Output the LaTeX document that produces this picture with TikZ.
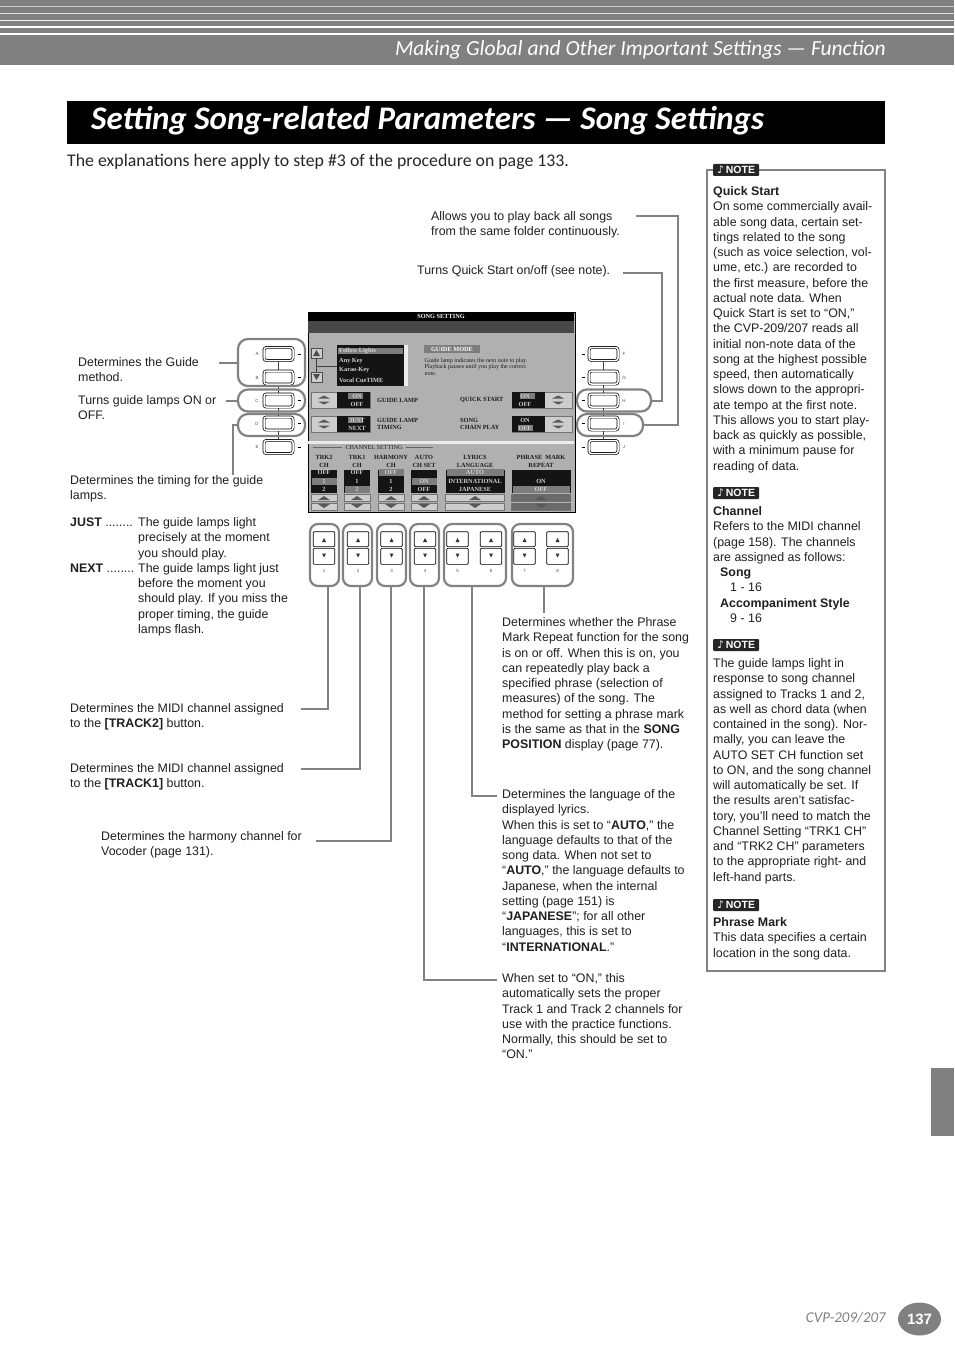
\documentclass[tikz,border=0pt]{standalone}
\usepackage{fontspec}
\setmainfont{Liberation Sans}
\newfontfamily\headfont{Carlito}
\newfontfamily\lcdfont{Liberation Serif}
\newfontfamily\symfont{DejaVu Sans}
\usetikzlibrary{positioning,shapes.geometric}
\definecolor{bandgray}{RGB}{128,128,128}
\definecolor{leadgray}{RGB}{130,130,130}
\definecolor{lcdbody}{RGB}{176,176,176}
\definecolor{lcddark}{RGB}{72,72,72}
\definecolor{lcdbtn}{RGB}{205,205,205}
\definecolor{lcdchip}{RGB}{125,125,125}
\definecolor{lcdink}{RGB}{28,28,28}
\tikzstyle{txt}=[anchor=north west,inner sep=0pt,align=left,text=black!88,
  font=\fontsize{12.4}{15.25}\selectfont]
\tikzstyle{leader}=[draw=leadgray,line width=2pt]
\tikzstyle{grp}=[rectangle,draw=leadgray,line width=2.2pt,rounded corners=10pt]
\tikzstyle{sidebtn}=[rectangle,rounded corners=2.5pt,draw=black,line width=0.7pt,
  double=white,double distance=1.5pt,minimum width=29pt,minimum height=13pt,
  inner sep=0pt,fill=white]
\tikzstyle{padbtn}=[rectangle,rounded corners=1pt,draw=black,line width=0.7pt,
  minimum width=21.5pt,inner sep=0pt,fill=white]
\tikzstyle{tiny}=[inner sep=0pt,text=black!70,font=\fontsize{4.5}{5}\selectfont]
\tikzstyle{notelogo}=[rectangle,rounded corners=1pt,fill=black!85,text=white,
  inner sep=0pt,minimum width=46pt,minimum height=12pt,
  font=\fontsize{10.5}{11}\selectfont\bfseries]
\tikzstyle{lcdtxt}=[inner sep=0pt,align=center,text=lcdink,
  font=\lcdfont\bfseries\fontsize{6.3}{7.2}\selectfont]
\tikzstyle{lcdinv}=[lcdtxt,text=black!18]
\tikzstyle{lcdbox}=[rectangle,draw=black!55,line width=0.6pt,fill=lcdbtn,inner sep=0pt]
\tikzstyle{lcdblack}=[rectangle,fill=black!92,inner sep=0pt]
\tikzstyle{lcdsel}=[rectangle,fill=lcdchip,inner sep=0pt]
% wide flat arrow of the lcd
\newcommand{\flatarrow}[3]{\fill[black!65] (#1-6,#2) -- (#1+6,#2) -- (#1,#2#3) -- cycle;}
\begin{document}
\begin{tikzpicture}[x=1pt,y=-1pt]
  \useasboundingbox (0,0) rectangle (954,1351);

  % Page head
  \fill[bandgray] (0,0) rectangle (954,65);
  \foreach \ly/\lw/\lc in {6.7/1/62,13.7/1.2/75,20.3/1.3/88,27/1.6/100,33.7/2/100}
    \draw[white!\lc!bandgray,line width=\lw pt] (0,\ly) -- (954,\ly);
  \node[anchor=east,inner sep=0pt,text=white,font=\headfont\itshape\fontsize{21.5}{24}\selectfont] (headline) at (886,49.5)
    {Making Global and Other Important Settings — Function};
  \node[rectangle,fill=black,anchor=north west,minimum width=818pt,minimum height=43pt] (titlebar) at (67,101) {};
  \node[anchor=west,inner sep=0pt,text=white,font=\headfont\bfseries\itshape\fontsize{33}{36}\selectfont] (title) at (91,121)
    {Setting Song-related Parameters — Song Settings};
  \node[anchor=west,inner sep=0pt,text=black!85,font=\headfont\fontsize{17.8}{20}\selectfont] (intro) at (67,161.5)
    {The explanations here apply to step \#3 of the procedure on page 133.};

  % Note column
  \node[rectangle,draw=leadgray,line width=2pt,anchor=north west,minimum width=178pt,minimum height=801pt] (notebox) at (706,169) {};
  \foreach \ny/\nn in {170/a,493/b,645/c,905/d}
    \node[notelogo,anchor=west] (logo\nn) at (713,\ny) {{\symfont ♪}\,NOTE};
  \node[txt] (noteQuick) at (713,184.8) {\strut\textbf{Quick Start}\\
    On some commercially avail-\\able song data, certain set-\\tings related to the song\\
    (such as voice selection, vol-\\ume, etc.) are recorded to\\the first measure, before the\\
    actual note data. When\\Quick Start is set to “ON,”\\the CVP-209/207 reads all\\
    initial non-note data of the\\song at the highest possible\\speed, then automatically\\
    slows down to the appropri-\\ate tempo at the first note.\\This allows you to start play-\\
    back as quickly as possible,\\with a minimum pause for\\reading of data.};
  \node[txt] (noteChannel) at (713,504.8) {\strut\textbf{Channel}\\
    Refers to the MIDI channel\\(page 158). The channels\\are assigned as follows:\\
    \hspace*{7pt}\textbf{Song}\\\hspace*{17pt}1 - 16\\\hspace*{7pt}\textbf{Accompaniment Style}\\\hspace*{17pt}9 - 16};
  \node[txt] (noteGuide) at (713,656.8) {\strut The guide lamps light in\\
    response to song channel\\assigned to Tracks 1 and 2,\\as well as chord data (when\\
    contained in the song). Nor-\\mally, you can leave the\\AUTO SET CH function set\\
    to ON, and the song channel\\will automatically be set. If\\the results aren’t satisfac-\\
    tory, you’ll need to match the\\Channel Setting “TRK1 CH”\\and “TRK2 CH” parameters\\
    to the appropriate right- and\\left-hand parts.};
  \node[txt] (notePhrase) at (713,915.8) {\strut\textbf{Phrase Mark}\\
    This data specifies a certain\\location in the song data.};

  % Lcd screen
  \node[rectangle,draw=black,line width=1pt,fill=lcdbody,anchor=north west,minimum width=267pt,minimum height=200pt] (screen) at (307.5,311.5) {};
  \fill[lcddark] (308,321) rectangle (574,333);
  \fill[black] (308,312) rectangle (574,321);
  \node[lcdinv,text=white] (scrTitle) at (441,316) {SONG SETTING};
  \node[rectangle,fill=lcdbtn,draw=black!70,minimum width=11pt,minimum height=10pt,inner sep=0pt] (scrUp) at (316.5,353) {};
  \node[rectangle,fill=lcdbtn,draw=black!70,minimum width=11pt,minimum height=10pt,inner sep=0pt] (scrDown) at (316.5,377) {};
  \fill[black!70] (313,356) -- (320,356) -- (316.5,350) -- cycle;
  \fill[black!70] (313,374) -- (320,374) -- (316.5,380) -- cycle;
  \coordinate (scrJoin) at (316.5,366);
  \draw[black!75,line width=0.6pt] (scrUp) -- (scrDown);
  \node[lcdblack,anchor=north west,minimum width=67pt,minimum height=41pt] (scrList) at (337,345) {};
  \draw[black!75,line width=0.6pt] (scrJoin) -- (scrList.west |- scrJoin);
  \fill[black!8] (404,345) rectangle (408,386);
  \node[lcdsel,anchor=north west,minimum width=65pt,minimum height=6pt] (scrPick) at (338,348) {};
  \node[lcdinv,anchor=west] at (339,351) {Follow Lights};
  \node[lcdinv,anchor=west] at (339,361) {Any Key};
  \node[lcdinv,anchor=west] at (339,370.5) {Karao-Key};
  \node[lcdinv,anchor=west] at (339,380) {Vocal CueTIME};
  \node[lcdsel,anchor=north west,minimum width=56pt,minimum height=8pt] (scrMode) at (424,345) {};
  \node[lcdinv,text=white] at (452,349) {GUIDE MODE};
  \node[lcdtxt,anchor=north west,align=left,font=\lcdfont\fontsize{6}{6.4}\selectfont] (scrHelp) at (424.5,358)
    {Guide lamp indicates the next note to play.\\Playback pauses until you play the correct\\note.};

  % Lcd rows
  \foreach \ry/\rn/\rl/\rr in {400/a/GUIDE LAMP/QUICK START,424/b/GUIDE LAMP\\TIMING/SONG\\CHAIN PLAY}{
    \node[lcdbox,minimum width=59pt,minimum height=16pt] (rowL\rn) at (340.5,\ry) {};
    \node[lcdblack,minimum width=33pt,minimum height=16pt] (rowLb\rn) at (353.5,\ry) {};
    \flatarrow{324}{\ry-1.5}{-3}
    \flatarrow{324}{\ry+1.5}{+3}
    \node[lcdbox,minimum width=60pt,minimum height=16pt] (rowR\rn) at (542,\ry) {};
    \node[lcdblack,minimum width=33pt,minimum height=16pt] (rowRb\rn) at (528.5,\ry) {};
    \flatarrow{558}{\ry-1.5}{-3}
    \flatarrow{558}{\ry+1.5}{+3}
    \node[lcdtxt,anchor=west,align=left] at (377,\ry) {\rl};
    \node[lcdtxt,anchor=west,align=left] at (460,\ry) {\rr};
  }
  \node[lcdsel,minimum width=15pt,minimum height=6pt] at (355,396) {};
  \node[lcdinv] at (357,396) {ON};
  \node[lcdinv] at (357,404) {OFF};
  \node[lcdsel,minimum width=15pt,minimum height=6pt] at (355,420) {};
  \node[lcdinv] at (357,420) {JUST};
  \node[lcdinv] at (357,428) {NEXT};
  \node[lcdsel,minimum width=15pt,minimum height=6pt] at (527,396) {};
  \node[lcdinv] at (525,396) {ON};
  \node[lcdinv] at (525,404) {OFF};
  \node[lcdinv] at (525,420) {ON};
  \node[lcdsel,minimum width=15pt,minimum height=6pt] at (525,428) {};
  \node[lcdinv] at (525,428) {OFF};

  % Channel setting part
  \fill[black!8] (308,441) rectangle (574,444);
  \node[lcdtxt,font=\lcdfont\fontsize{6.2}{7}\selectfont] (chanHead) at (374,447) {CHANNEL SETTING};
  \draw[black!60,line width=0.6pt] (chanHead.west) ++(-3,0) -- ++(-29,0);
  \draw[black!60,line width=0.6pt] (chanHead.east) ++(3,0) -- ++(27,0);
  \foreach \cx/\cw/\cn/\ct in {324/26/a/TRK2\\CH,357/26/b/TRK1\\CH,391/26/c/HARMONY\\CH,424/26/d/AUTO\\CH SET,475/59/e/LYRICS\\LANGUAGE,541/59/f/PHRASE\ \ MARK\\REPEAT}{
    \node[lcdtxt] (colHead\cn) at (\cx,461.5) {\ct};
    \node[lcdblack,anchor=north,minimum width=\cw pt,minimum height=23pt] (col\cn) at (\cx,470) {};
    \node[lcdbox,anchor=north,minimum width=\cw pt,minimum height=7pt] (colUp\cn) at (\cx,494) {};
    \node[lcdbox,anchor=north,minimum width=\cw pt,minimum height=7pt] (colDn\cn) at (\cx,503) {};
    \flatarrow{\cx}{500}{-4}
    \flatarrow{\cx}{504}{+4}
  }
  \foreach \sx/\sy/\sw in {324/481/25,357/489/25,391/472/25,424/481/25,475/472/57,541/489/57}
    \node[lcdsel,minimum width=\sw pt,minimum height=7pt] at (\sx,\sy) {};
  \foreach \ex/\ey/\et in {324/472/OFF,324/481/1,324/489/2,357/472/OFF,357/481/1,357/489/2,391/472/OFF,391/481/1,391/489/2,424/481/ON,424/489/OFF,475/472/AUTO,475/481/INTERNATIONAL,475/489/JAPANESE,541/481/ON,541/489/OFF}
    \node[lcdinv] at (\ex,\ey) {\et};
  \fill[lcdchip!85!black] (512,494) rectangle (571,501);
  \fill[lcdchip!85!black] (512,503) rectangle (571,510);
  \flatarrow{541}{500}{-4}
  \flatarrow{541}{504}{+4}

  % Buttons beside the screen
  \draw[black!75,line width=0.6pt] (278,354) -- (278,447);
  \draw[black!75,line width=0.6pt] (603.5,354) -- (603.5,447);
  \foreach \by/\bl/\br in {354/A/F,377.5/B/G,400.5/C/H,423.5/D/I,447/E/J}{
    \node[sidebtn] (btn\bl) at (278.5,\by) {};
    \node[tiny] (lbl\bl) at (257,\by) {\bl};
    \draw[black,line width=1pt] (297.5,\by) -- (300.5,\by);
    \node[sidebtn] (btn\br) at (603.5,\by) {};
    \node[tiny] (lbl\br) at (624,\by) {\br};
    \draw[black,line width=1pt] (581.5,\by) -- (584.5,\by);
  }
  \node[grp,minimum width=67pt,minimum height=47pt] (grpAB) at (271.5,362.5) {};
  \node[grp,minimum width=67pt,minimum height=22pt] (grpC) at (271.5,400.5) {};
  \node[grp,minimum width=67pt,minimum height=22pt] (grpD) at (271.5,425) {};
  \node[grp,minimum width=74pt,minimum height=22pt] (grpH) at (614,400.5) {};
  \node[grp,minimum width=66pt,minimum height=22pt] (grpI) at (610,425) {};

  % Buttons under the screen
  \foreach \px/\pn in {324/1,358/2,391.5/3,425/4,457.5/5,491/6,524.5/7,557.5/8}{
    \node[padbtn,anchor=south,minimum height=15pt] (padUp\pn) at (\px,547) {};
    \node[padbtn,anchor=north,minimum height=16pt] (padDn\pn) at (\px,548) {};
    \fill[black!80] (\px-2,542) -- (\px+2,542) -- (\px,538) -- cycle;
    \fill[black!80] (\px-2,553.5) -- (\px+2,553.5) -- (\px,557.5) -- cycle;
    \node[tiny] (padNum\pn) at (\px,570.5) {\pn};
  }
  \foreach \gx/\gw/\gn in {324.5/29/a,357.5/29/b,391.5/29/c,424.5/29/d,475/62/e,542.5/61/f}
    \node[grp,minimum width=\gw pt,minimum height=62pt,rounded corners=8pt] (grpPad\gn) at (\gx,555) {};

  % Texts
  \node[txt] (txtAllows) at (431,209.8) {\strut Allows you to play back all songs\\from the same folder continuously.};
  \node[txt] (txtQuick) at (417,263.8) {\strut Turns Quick Start on/off (see note).};
  \node[txt] (txtGuide) at (78,355.8) {\strut Determines the Guide\\method.};
  \node[txt] (txtLamp) at (78,393.8) {\strut Turns guide lamps ON or\\OFF.};
  \node[txt] (txtTiming) at (70,473.8) {\strut Determines the timing for the guide\\lamps.};
  \node[txt] (txtJust) at (70,515.8) {\strut\textbf{JUST} ........};
  \node[txt] (txtJustB) at (138,515.8) {\strut The guide lamps light\\precisely at the moment\\you should play.};
  \node[txt] (txtNext) at (70,561.5) {\strut\textbf{NEXT} ........};
  \node[txt] (txtNextB) at (138,561.5) {\strut The guide lamps light just\\before the moment you\\should play. If you miss the\\proper timing, the guide\\lamps flash.};
  \node[txt] (txtTrkTwo) at (70,701.8) {\strut Determines the MIDI channel assigned\\to the \textbf{[TRACK2]} button.};
  \node[txt] (txtTrkOne) at (70,761.8) {\strut Determines the MIDI channel assigned\\to the \textbf{[TRACK1]} button.};
  \node[txt] (txtHarmony) at (101,829.8) {\strut Determines the harmony channel for\\Vocoder (page 131).};
  \node[txt] (txtPhrase) at (502,615.8) {\strut Determines whether the Phrase\\Mark Repeat function for the song\\is on or off. When this is on, you\\can repeatedly play back a\\specified phrase (selection of\\measures) of the song. The\\method for setting a phrase mark\\is the same as that in the \textbf{SONG}\\\textbf{POSITION} display (page 77).};
  \node[txt] (txtLyrics) at (502,787.8) {\strut Determines the language of the\\displayed lyrics.\\When this is set to “\textbf{AUTO},” the\\language defaults to that of the\\song data. When not set to\\“\textbf{AUTO},” the language defaults to\\Japanese, when the internal\\setting (page 151) is\\“\textbf{JAPANESE}”; for all other\\languages, this is set to\\“\textbf{INTERNATIONAL}.”};
  \node[txt] (txtAuto) at (502,971.8) {\strut When set to “ON,” this\\automatically sets the proper\\Track 1 and Track 2 channels for\\use with the practice functions.\\Normally, this should be set to\\“ON.”};

  % Leaders
  \coordinate (endAB) at (219,362.5);
  \coordinate (endC) at (226,400.5);
  \coordinate (endD) at (233,475);
  \coordinate (endH) at (623,273);
  \coordinate (endI) at (636,216);
  \coordinate (cornerH) at (662,273);
  \coordinate (cornerI) at (678,216);
  \coordinate (footA) at (328,586);
  \coordinate (footB) at (360,586);
  \coordinate (footC) at (391,586);
  \coordinate (footD) at (424,586);
  \coordinate (footE) at (472,586);
  \coordinate (footF) at (544,586);
  \coordinate (endPadA) at (301,709);
  \coordinate (endPadB) at (301,769);
  \coordinate (endPadC) at (316,841);
  \coordinate (endPadD) at (497,980);
  \coordinate (endPadE) at (497,796);
  \coordinate (endPadF) at (544,613);
  \draw[leader] (grpAB.west) -- (endAB);
  \draw[leader] (grpC.west) -- (endC);
  \draw[leader] (grpD.west) -| (endD);
  \draw[leader] (grpH.east) -| (cornerH) -- (endH);
  \draw[leader] (grpI.east) -| (cornerI) -- (endI);
  \draw[leader] (footA) |- (endPadA);
  \draw[leader] (footB) |- (endPadB);
  \draw[leader] (footC) |- (endPadC);
  \draw[leader] (footD) |- (endPadD);
  \draw[leader] (footE) |- (endPadE);
  \draw[leader] (footF) -- (endPadF);

  % Page foot
  \node[rectangle,fill=bandgray,anchor=north east,minimum width=23pt,minimum height=68pt] (sidetab) at (954,1068) {};
  \node[ellipse,fill=bandgray,minimum width=43pt,minimum height=33pt,inner sep=0pt,text=white,font=\fontsize{15}{16}\selectfont\bfseries] (pagenum) at (919.5,1319) {137};
  \node[anchor=east,inner sep=0pt,text=bandgray,font=\headfont\itshape\fontsize{15}{16}\selectfont] (model) at (886,1318) {CVP-209/207};
\end{tikzpicture}
\end{document}
